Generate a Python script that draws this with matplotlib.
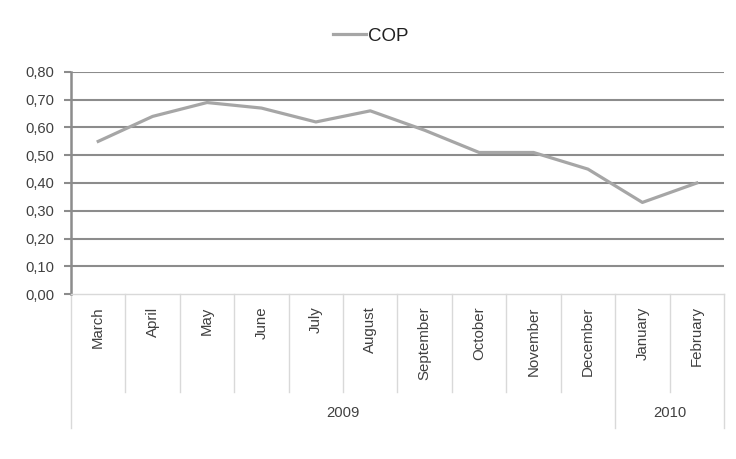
import matplotlib
matplotlib.use("Agg")
import matplotlib.pyplot as plt

months = ["March", "April", "May", "June", "July", "August", "September",
          "October", "November", "December", "January", "February"]
years = ["2009", "2010"]
months_per_year = [10, 2]
cop = [0.55, 0.64, 0.69, 0.67, 0.62, 0.66, 0.59, 0.51, 0.51, 0.45, 0.33, 0.40]
y_ticks = [0.0, 0.1, 0.2, 0.3, 0.4, 0.5, 0.6, 0.7, 0.8]

plt.rcParams["font.family"] = ["Liberation Sans", "DejaVu Sans"]
text_col = "#404040"
grid_col = "#8c8c8c"
sep_col = "#d9d9d9"

W, H = 736, 459
fig = plt.figure(figsize=(W / 100, H / 100), dpi=100)
x0, x1, y_top, y_bot = 71, 724, 72, 294
ax = fig.add_axes([x0 / W, 1 - y_bot / H, (x1 - x0) / W, (y_bot - y_top) / H])

x = list(range(len(months)))
line, = ax.plot(x, cop, color="#a6a6a6", lw=2.3, solid_joinstyle="round", zorder=3)

ax.set_xlim(-0.5, len(months) - 0.5)
ax.set_ylim(0, 0.8)
ax.set_yticks(y_ticks)
ax.set_yticklabels([f"{v:.2f}".replace(".", ",") for v in y_ticks],
                   fontsize=10.6, color=text_col)
for v in y_ticks[1:]:
    ax.axhline(v, color=grid_col, lw=1.5, zorder=1)

for s in ["top", "right"]:
    ax.spines[s].set_visible(False)
ax.spines["left"].set_color(grid_col)
ax.spines["left"].set_linewidth(1.8)
ax.spines["bottom"].set_color(sep_col)
ax.spines["bottom"].set_linewidth(1.0)
ax.tick_params(axis="y", direction="out", length=5, width=1.5, color=grid_col, pad=7)

ax.set_xticks(x)
ax.set_xticklabels(months, rotation=90, fontsize=10.8, color=text_col, va="top")
ax.tick_params(axis="x", length=0, pad=9)

# multi-level category axis: month separators and year groups
trans = ax.get_xaxis_transform()
h_px = y_bot - y_top
month_end = -(392 - y_bot) / h_px
year_end = -(428 - y_bot) / h_px
boundaries = [0]
for n in months_per_year:
    boundaries.append(boundaries[-1] + n)
for i in range(len(months) + 1):
    xb = i - 0.5
    ybottom = year_end if i in boundaries else month_end
    ax.plot([xb, xb], [0, ybottom], transform=trans, color=sep_col, lw=1.0,
            clip_on=False, zorder=0)
year_y = -(413 - y_bot) / h_px
for k, yr in enumerate(years):
    xc = (boundaries[k] + boundaries[k + 1]) / 2 - 0.5
    ax.text(xc, year_y, yr, transform=trans, ha="center", va="center",
            fontsize=10.6, color=text_col)

leg = fig.legend([line], ["COP"], loc="center", bbox_to_anchor=(371 / W, 1 - 36 / H),
                 frameon=False, fontsize=13.5, handlelength=1.75, handletextpad=0.1,
                 labelcolor="#202020")

fig.savefig("out.png", dpi=100)
